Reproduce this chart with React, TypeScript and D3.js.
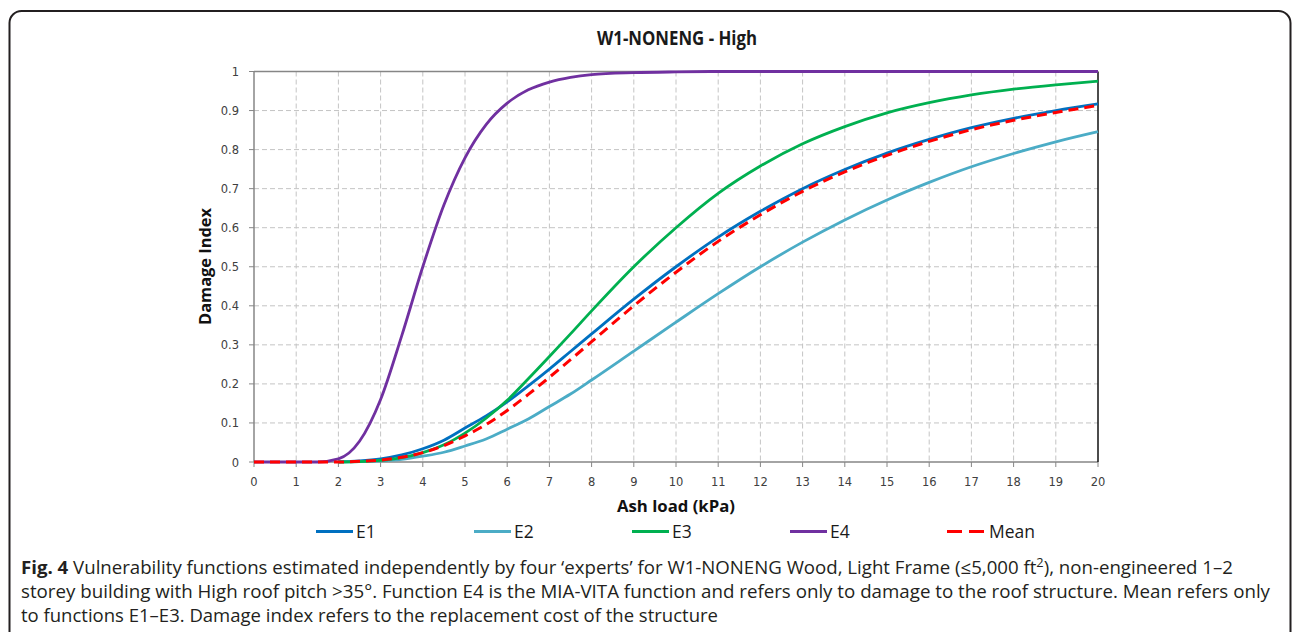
import React from "react";
import * as d3 from "d3";

// Ash load (kPa) sample positions shared by all curves
const ashLoad = [0, 0.5, 1, 1.5, 2, 2.5, 3, 3.5, 4, 4.5, 5, 5.5, 6, 6.5, 7, 7.5, 8, 9, 10, 11, 12, 13, 14, 15, 16, 17, 18, 19, 20];

// Damage index per expert (null = curve not drawn there)
const e1 = [null, null, null, null, 0.001, 0.003, 0.008, 0.018, 0.034, 0.056, 0.087, 0.118, 0.154, 0.195, 0.238, 0.283, 0.328, 0.417, 0.5, 0.576, 0.642, 0.7, 0.749, 0.791, 0.826, 0.856, 0.88, 0.9, 0.917];
const e2 = [null, null, null, null, 0, 0.001, 0.003, 0.007, 0.015, 0.025, 0.041, 0.059, 0.084, 0.11, 0.142, 0.174, 0.21, 0.284, 0.358, 0.431, 0.5, 0.563, 0.62, 0.671, 0.716, 0.756, 0.79, 0.82, 0.846];
const e3 = [null, null, null, null, 0, 0.001, 0.004, 0.011, 0.024, 0.044, 0.074, 0.112, 0.158, 0.213, 0.27, 0.328, 0.387, 0.5, 0.6, 0.688, 0.758, 0.815, 0.859, 0.894, 0.92, 0.94, 0.955, 0.966, 0.975];
const e4 = [0, 0, 0, 0, 0.008, 0.053, 0.16, 0.323, 0.5, 0.658, 0.779, 0.864, 0.919, 0.953, 0.973, 0.985, 0.992, 0.997, 0.999, 1, 1, 1, 1, 1, 1, 1, 1, 1, 1];
const meanE1E3 = [0, 0, 0, 0, 0, 0.002, 0.005, 0.012, 0.024, 0.042, 0.067, 0.096, 0.132, 0.173, 0.217, 0.262, 0.308, 0.4, 0.486, 0.565, 0.633, 0.693, 0.743, 0.785, 0.821, 0.851, 0.875, 0.895, 0.913];

const xTicks = d3.range(0, 21);
const yTicks = [0, 0.1, 0.2, 0.3, 0.4, 0.5, 0.6, 0.7, 0.8, 0.9, 1];

const seriesNames = ["E1", "E2", "E3", "E4", "Mean"];
const seriesColors = ["#0070C0", "#4BACC6", "#00B050", "#7030A0", "#FF0000"];
const seriesValues = [e1, e2, e3, e4, meanE1E3];

const legendX = [316, 474, 632, 790, 947];

const captionLines = [
  "Vulnerability functions estimated independently by four \u2018experts\u2019 for W1-NONENG Wood, Light Frame (\u22645,000 ft",
  "storey building with High roof pitch >35\u00b0. Function E4 is the MIA-VITA function and refers only to damage to the roof structure. Mean refers only",
  "to functions E1\u2013E3. Damage index refers to the replacement cost of the structure",
];

export default function App() {
  const W = 1292;
  const H = 632;
  const left = 254;
  const right = 1098;
  const top = 71.5;
  const bottom = 462;

  const x = d3.scaleLinear().domain([0, 20]).range([left, right]);
  const y = d3.scaleLinear().domain([0, 1]).range([bottom, top]);

  const line = d3
    .line<number>()
    .defined((_, i, arr) => arr[i] !== null)
    .x((_, i) => x(ashLoad[i]))
    .y((d) => y(d as number))
    .curve(d3.curveMonotoneX);

  const tickFont = "'DejaVu Sans', Verdana, sans-serif";
  const labelFont = "'Open Sans', sans-serif";

  return (
    <svg
      width={W}
      height={H}
      style={{ position: "absolute", left: 0, top: 0, display: "block", background: "#fff" }}
    >
      {/* figure frame */}
      <rect x={9.5} y={11} width={1281} height={660} rx={12} ry={12} fill="none" stroke="#231f20" strokeWidth={2} />

      {/* title */}
      <text
        x={677}
        y={45}
        textAnchor="middle"
        fontFamily={labelFont}
        fontWeight={700}
        fontSize={19.5}
        textLength={160}
        lengthAdjust="spacingAndGlyphs"
        fill="#1a1a1a"
      >
        W1-NONENG - High
      </text>

      {/* grid */}
      {xTicks.slice(1, -1).map((t) => (
        <line key={"gx" + t} x1={x(t)} x2={x(t)} y1={top} y2={bottom} stroke="#c4c4c4" strokeWidth={1} strokeDasharray="5,3" />
      ))}
      {yTicks.slice(1, -1).map((t) => (
        <line key={"gy" + t} x1={left} x2={right} y1={y(t)} y2={y(t)} stroke="#c4c4c4" strokeWidth={1} strokeDasharray="5,3" />
      ))}

      {/* axes */}
      <line x1={left} x2={right} y1={top} y2={top} stroke="#868686" strokeWidth={1.5} />
      <line x1={left} x2={left} y1={top} y2={bottom} stroke="#868686" strokeWidth={1.5} />
      <line x1={left} x2={right} y1={bottom} y2={bottom} stroke="#868686" strokeWidth={1.5} />
      <line x1={right} x2={right} y1={top} y2={bottom} stroke="#111" strokeWidth={1.5} />

      {yTicks.map((t) => (
        <g key={"yt" + t}>
          <line x1={left - 5} x2={left} y1={y(t)} y2={y(t)} stroke="#868686" strokeWidth={1} />
          <text x={239} y={y(t) + 4.5} textAnchor="end" fontFamily={tickFont} fontSize={11.5} fill="#404040">
            {String(t)}
          </text>
        </g>
      ))}
      {xTicks.map((t) => (
        <g key={"xt" + t}>
          <line x1={x(t)} x2={x(t)} y1={bottom} y2={bottom + 5} stroke="#868686" strokeWidth={1} />
          <text x={x(t)} y={486} textAnchor="middle" fontFamily={tickFont} fontSize={11.5} fill="#404040">
            {String(t)}
          </text>
        </g>
      ))}

      {/* axis titles */}
      <text x={676} y={511.5} textAnchor="middle" fontFamily={labelFont} fontWeight={700} fontSize={16.5} textLength={118} lengthAdjust="spacingAndGlyphs" fill="#111">
        Ash load (kPa)
      </text>
      <text
        transform="translate(211,266.5) rotate(-90)"
        textAnchor="middle"
        fontFamily={labelFont}
        fontWeight={700}
        fontSize={16.5}
        textLength={117}
        lengthAdjust="spacingAndGlyphs"
        fill="#111"
      >
        Damage Index
      </text>

      {/* curves */}
      {seriesValues.map((vals, i) => (
        <path
          key={seriesNames[i]}
          d={line(vals as number[]) || ""}
          fill="none"
          stroke={seriesColors[i]}
          strokeWidth={i === 4 ? 3 : 2.8}
          strokeDasharray={i === 4 ? "10,6" : undefined}
          strokeLinejoin="round"
        />
      ))}

      {/* legend */}
      {seriesNames.map((name, i) => (
        <g key={"lg" + name}>
          <line
            x1={legendX[i]}
            x2={legendX[i] + 37}
            y1={531.5}
            y2={531.5}
            stroke={seriesColors[i]}
            strokeWidth={3}
            strokeDasharray={i === 4 ? "15,7" : undefined}
          />
          <text x={legendX[i] + (i === 4 ? 42 : 40)} y={537.5} fontFamily={labelFont} fontSize={17.5} fill="#1a1a1a">
            {name}
          </text>
        </g>
      ))}

      {/* caption */}
      <text x={21} y={574} fontFamily={labelFont} fontSize={17.5} fill="#231f20" textLength={1212} lengthAdjust="spacingAndGlyphs">
        <tspan fontWeight={700}>Fig. 4</tspan>
        <tspan> {captionLines[0]}</tspan>
        <tspan fontSize={12} dy={-7}>2</tspan>
        <tspan dy={7}>), non-engineered 1{"\u2013"}2</tspan>
      </text>
      <text x={21} y={598} fontFamily={labelFont} fontSize={17.5} fill="#231f20" textLength={1249} lengthAdjust="spacingAndGlyphs">
        {captionLines[1]}
      </text>
      <text x={21} y={622} fontFamily={labelFont} fontSize={17.5} fill="#231f20" textLength={697} lengthAdjust="spacingAndGlyphs">
        {captionLines[2]}
      </text>
    </svg>
  );
}
